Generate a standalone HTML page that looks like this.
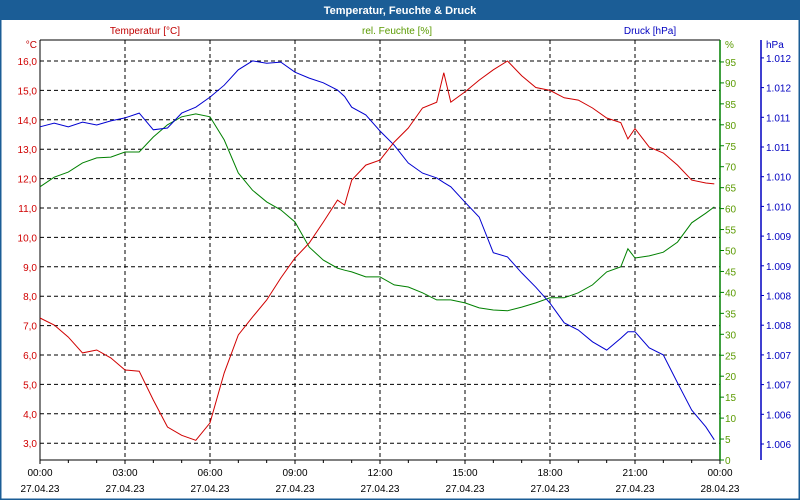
<!DOCTYPE html>
<html><head><meta charset="utf-8"><style>
body{margin:0;background:#fff}
svg{display:block;font-family:"Liberation Sans",sans-serif}
</style></head><body>
<svg id="c" width="800" height="500" viewBox="0 0 800 500">
<rect x="0" y="0" width="800" height="500" fill="#fff" stroke="#1b5d96" stroke-width="3"/>
<rect x="0" y="0" width="800" height="20" fill="#1b5d96"/>
<text x="400" y="14" fill="#fff" font-size="11" font-weight="bold" text-anchor="middle">Temperatur, Feuchte &amp; Druck</text>
<text x="145" y="34" fill="#c00000" font-size="10" text-anchor="middle">Temperatur [°C]</text>
<text x="397" y="34" fill="#5a9a00" font-size="10" text-anchor="middle">rel. Feuchte [%]</text>
<text x="650" y="34" fill="#0000c0" font-size="10" text-anchor="middle">Druck [hPa]</text>
<text x="37" y="48" fill="#c00000" font-size="10" text-anchor="end">°C</text>
<text x="725" y="48" fill="#5a9a00" font-size="10">%</text>
<text x="766" y="48" fill="#0000c0" font-size="10">hPa</text>
<g id="grid"></g><g id="axes"></g><g id="series"></g>
</svg>
<script>
const times=[0,0.5,1,1.5,2,2.5,3,3.5,4,4.5,5,5.5,6,6.5,7,7.5,8,8.5,9,9.5,10,10.5,10.75,11,11.5,12,12.5,13,13.5,14,14.25,14.5,15,15.5,16,16.5,17,17.5,18,18.5,19,19.5,20,20.5,20.75,21,21.5,22,22.5,23,23.5,23.8];
const temperature=[7.26,7.02,6.61,6.07,6.17,5.9,5.49,5.45,4.47,3.55,3.27,3.1,3.69,5.39,6.68,7.29,7.87,8.62,9.3,9.81,10.52,11.27,11.1,11.95,12.46,12.63,13.24,13.72,14.4,14.6,15.6,14.6,14.95,15.35,15.7,16.0,15.5,15.1,15.0,14.75,14.67,14.4,14.06,13.9,13.35,13.7,13.07,12.87,12.46,11.95,11.85,11.82];
const humidity=[65.2,67.5,68.7,70.9,72.1,72.3,73.5,73.5,77.1,80,81.9,82.6,81.9,76.4,68.5,64.4,61.6,59.7,56.8,50.8,47.7,45.8,45.3,44.9,43.7,43.7,41.8,41.3,39.9,38.2,38.2,38.2,37.5,36.3,35.8,35.6,36.5,37.5,38.7,38.7,39.9,41.8,44.9,46.1,50.4,48.2,48.7,49.6,52,56.6,58.9,60.4];
const pressure=[1011.09,1011.15,1011.09,1011.17,1011.12,1011.19,1011.24,1011.32,1011.04,1011.07,1011.32,1011.42,1011.59,1011.79,1012.05,1012.2,1012.16,1012.18,1012.01,1011.91,1011.83,1011.71,1011.6,1011.42,1011.29,1011.02,1010.78,1010.48,1010.31,1010.23,1010.15,1010.08,1009.82,1009.57,1008.97,1008.9,1008.63,1008.39,1008.12,1007.79,1007.67,1007.47,1007.33,1007.53,1007.64,1007.64,1007.37,1007.25,1006.78,1006.32,1006.04,1005.82];
const tempTicks=[3,4,5,6,7,8,9,10,11,12,13,14,15,16];
const humTicks=[0,5,10,15,20,25,30,35,40,45,50,55,60,65,70,75,80,85,90,95];
const presTicks=[1005.75,1006.25,1006.75,1007.25,1007.75,1008.25,1008.75,1009.25,1009.75,1010.25,1010.75,1011.25,1011.75,1012.25];
const presTickLabels=["1.006","1.006","1.007","1.007","1.008","1.008","1.009","1.009","1.010","1.010","1.011","1.011","1.012","1.012"];
const timeTicks=[0,3,6,9,12,15,18,21,24];
const timeLabels=["00:00","03:00","06:00","09:00","12:00","15:00","18:00","21:00","00:00"];
const dateLabels=["27.04.23","27.04.23","27.04.23","27.04.23","27.04.23","27.04.23","27.04.23","27.04.23","28.04.23"];

const L=40,R=720,T=40,B=460;
const xS=h=>L+h/24*(R-L);
const yT=v=>61+(16-v)*29.4;
const yH=v=>460-v*4.19;
const yP=v=>444-(v-1005.75)*59.4;
const NS="http://www.w3.org/2000/svg";
function mk(tag,parent,attrs){const e=document.createElementNS(NS,tag);for(const k in attrs)e.setAttribute(k,attrs[k]);parent.appendChild(e);return e;}
const grid=document.getElementById('grid'),axes=document.getElementById('axes'),series=document.getElementById('series');
tempTicks.forEach(v=>{
  const y=yT(v);
  const g=mk('line',grid,{x1:L,x2:R,y1:y,y2:y,stroke:'#000','stroke-dasharray':'4,3'});
  
  
  const t=mk('text',axes,{x:37,y:y+4,fill:'#d00000','font-size':10,'text-anchor':'end'});
  t.textContent=v.toFixed(1).replace('.',',');
  
  
});
timeTicks.forEach((h,i)=>{
  const x=xS(h);
  if(i>0&&i<timeTicks.length-1){
    const g=mk('line',grid,{x1:x,x2:x,y1:T,y2:B,stroke:'#000','stroke-dasharray':'4,3'});
    
    
  }
  const t=mk('text',axes,{x:x,y:476,fill:'#000','font-size':10,'text-anchor':'middle'});
  t.textContent=timeLabels[i];
  
  
  const d=mk('text',axes,{x:x,y:492,fill:'#000','font-size':10,'text-anchor':'middle'});
  d.textContent=dateLabels[i];
  
  
});
for(let h=0;h<=24;h++){
  const x=xS(h);const tk=mk('line',axes,{x1:x,x2:x,y1:B,y2:B+(h%3?3:4),stroke:'#000'});
  
  
}
humTicks.forEach(v=>{
  const y=yH(v);
  const tk=mk('line',axes,{x1:R,x2:R+4,y1:y,y2:y,stroke:'#008000'});
  
  
  const t=mk('text',axes,{x:725,y:y+4,fill:'#5a9a00','font-size':10});
  t.textContent=v;
  
  
});
presTicks.forEach((v,i)=>{
  const y=yP(v);
  const tk=mk('line',axes,{x1:761,x2:764,y1:y,y2:y,stroke:'#0000c0'});
  
  
  const t=mk('text',axes,{x:766,y:y+4,fill:'#0000c0','font-size':10});
  t.textContent=presTickLabels[i];
  
  
});
const a1=mk('line',axes,{x1:L,x2:R,y1:T,y2:T,stroke:'#000'});


const a2=mk('line',axes,{x1:L,x2:L,y1:T,y2:B,stroke:'#000'});


const a3=mk('line',axes,{x1:L,x2:R,y1:B,y2:B,stroke:'#000'});


const a4=mk('line',axes,{x1:R,x2:R,y1:T,y2:B,stroke:'#008000','stroke-width':1.5});


const a5=mk('line',axes,{x1:761,x2:761,y1:T,y2:B,stroke:'#0000c0','stroke-width':1.5});


function line(vals,ys,color,name){
  const pts=vals.map((v,i)=>xS(times[i]).toFixed(1)+','+ys(v).toFixed(1)).join(' ');
  const p=mk('polyline',series,{points:pts,fill:'none',stroke:color,'stroke-width':1});
  
  
}
line(humidity,yH,'#008000','humidity-line');
line(pressure,yP,'#0000d0','pressure-line');
line(temperature,yT,'#d00000','temperature-line');
</script>
</body></html>
